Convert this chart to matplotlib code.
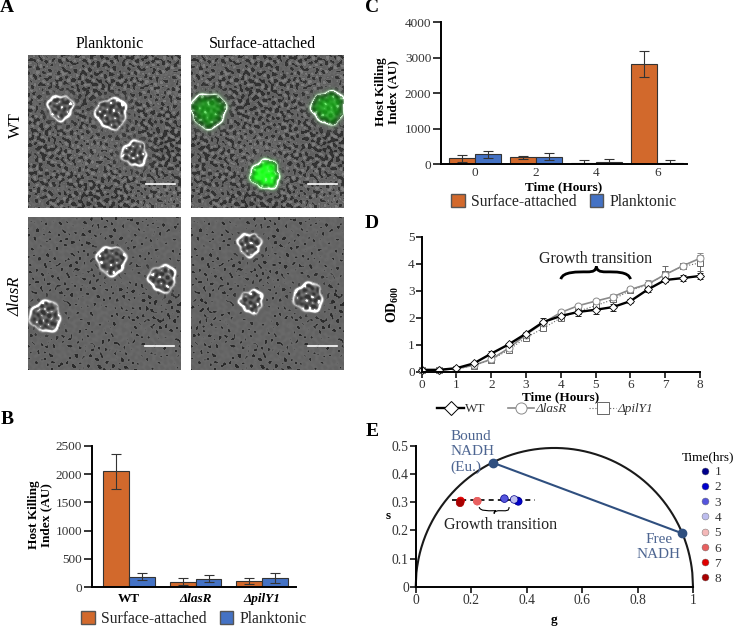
import numpy as np
import matplotlib
matplotlib.use('Agg')
import matplotlib.pyplot as plt
from matplotlib.lines import Line2D
from matplotlib.patches import Patch, PathPatch
from matplotlib.path import Path

plt.rcParams['font.family'] = ['Liberation Serif', 'DejaVu Serif']
plt.rcParams['mathtext.fontset'] = 'custom'
plt.rcParams['mathtext.rm'] = 'Liberation Serif'
plt.rcParams['mathtext.bf'] = 'Liberation Serif:bold'
plt.rcParams['axes.linewidth'] = 1.4

W, H = 733, 626
ORANGE = '#D2692C'
BLUE = '#4472C4'
NAVY = '#2F4F7F'
NAVY_TEXT = '#4D6591'

# Panel A: cells (x, y, radius) in each micrograph, green level per cell
cells_wt_plank = [(32, 52, 12), (83, 58, 15), (106, 98, 12)]
cells_wt_surf = [(17, 55, 17), (137, 52, 16), (74, 119, 14)]
cells_las_plank = [(83, 43, 14), (134, 61, 13), (17, 99, 15)]
cells_las_surf = [(58, 27, 11), (60, 84, 11), (117, 80, 14)]
green_none = [0, 0, 0]
green_wt_surf = [0.45, 0.5, 0.95]

# Panel B
b_names = ['WT', 'ΔlasR', 'ΔpilY1']
b_surface = [2050, 95, 110]
b_surface_err = [310, 65, 50]
b_plank = [185, 145, 160]
b_plank_err = [60, 60, 85]

# Panel C
c_times = ['0', '2', '4', '6']
c_surface = [155, 185, 30, 2810]
c_surface_err = [110, 50, 90, 370]
c_plank = [270, 210, 65, 30]
c_plank_err = [95, 95, 80, 90]

# Panel D
d_hours = [0, 0.5, 1, 1.5, 2, 2.5, 3, 3.5, 4, 4.5, 5, 5.5, 6, 6.5, 7, 7.5, 8]
d_wt = [.08, .08, .14, .32, .68, 1.02, 1.42, 1.85, 2.07, 2.22, 2.30, 2.40, 2.62, 3.05, 3.40, 3.47, 3.55]
d_wt_err = [.02, .02, .03, .04, .08, .05, .07, .13, .08, .15, .15, .13, .06, .08, .08, .1, .1]
d_las = [.07, .08, .12, .25, .47, .88, 1.38, 1.82, 2.20, 2.45, 2.62, 2.78, 3.05, 3.25, 3.6, 3.92, 4.2]
d_las_err = [.02, .02, .02, .03, .05, .05, .05, .08, .06, .06, .08, .1, .08, .15, .1, .08, .18]
d_pil = [.07, .08, .11, .24, .45, .82, 1.27, 1.62, 2.0, 2.25, 2.45, 2.68, 3.02, 3.22, 3.62, 3.9, 4.03]
d_pil_err = [.02, .02, .02, .03, .04, .06, .06, .06, .06, .08, .1, .1, .08, .1, .3, .06, .3]

# Panel E
e_hours = ['1', '2', '3', '4', '5', '6', '7', '8']
e_g = [0.368, 0.370, 0.320, 0.355, 0.222, 0.222, 0.162, 0.160]
e_s = [0.305, 0.303, 0.313, 0.310, 0.304, 0.304, 0.305, 0.298]
e_colors = ['#00008B', '#0000CD', '#5555DD', '#BDBDEE', '#F4B8B8', '#E86060', '#E00000', '#A80000']
e_bound = (0.28, 0.44)
e_free = (0.96, 0.19)
e_arc_top = 0.493

fig = plt.figure(figsize=(W / 100, H / 100), dpi=100)


def px_axes(left, top, right, bottom):
    return fig.add_axes([left / W, 1 - bottom / H, (right - left) / W, (bottom - top) / H])


def fx(x):
    return x / W


def fy(y):
    return 1 - y / H


def micrograph(cells, greens, dense):
    yy, xx = np.mgrid[0:153, 0:153].astype(float)
    # speckled background made of many crossing waves
    wave = np.zeros_like(xx)
    for i in range(1, 15):
        a = i * 2.39996
        k = 0.62 + 0.05 * i
        wave += np.sin(k * (np.cos(a) * xx + np.sin(a) * yy) + i * i)
    wave = wave / 3.2
    # slow patches where the speckle thins out
    slow = np.sin(0.045 * xx + 1.3) * np.sin(0.05 * yy + 0.4) + 0.5 * np.sin(0.03 * xx - 0.06 * yy)
    level = (0.35 if dense else 1.0) + 0.25 * slow
    img = 0.40 + (0.05 if dense else 0.015) * np.clip(wave, -1, 1)
    img = img - 0.25 * np.clip((wave - level) / 0.3, 0, 1)
    if dense:
        img = img + 0.14 * np.clip((-wave - 0.7) / 0.4, 0, 1)
    g_extra = np.zeros_like(img)
    for n, (cx, cy, r) in enumerate(cells):
        th = np.arctan2(yy - cy, xx - cx)
        d = np.hypot(xx - cx, yy - cy) + 1.2 * np.sin(3 * th + n) + 0.7 * np.sin(7 * th + 2 * n)
        calm = np.exp(-(np.clip(d - r, 0, None) / 7) ** 2)
        img = img * (1 - 0.65 * calm) + 0.38 * 0.65 * calm
        inside = d < r
        img[inside] = 0.33 + 0.12 * np.clip(wave[inside], -1, 1)
        strength = 0.35 + 0.3 * (1 + np.sin(2 * th + 3 * n))
        img += strength * np.exp(-((d - r) / 1.4) ** 2)
        img += 0.9 * np.clip(wave - 1.1, 0, 0.6) * inside
        if greens[n] > 0:
            g_extra += greens[n] * np.exp(-(d / (0.95 * r)) ** 4)
            img[inside] *= 0.45
    rgb = np.dstack([img, img, img])
    rgb[:, :, 1] += g_extra
    return np.clip(rgb, 0, 1)


# Panel A
panels = [
    (28, 55, cells_wt_plank, green_none, True, 117),
    (191, 55, cells_wt_surf, green_wt_surf, True, 116),
    (28, 217, cells_las_plank, green_none, False, 116),
    (191, 217, cells_las_surf, green_none, False, 116),
]
for left, top, cells, greens, dense, bar_x in panels:
    ax = px_axes(left, top, left + 153, top + 153)
    ax.imshow(micrograph(cells, greens, dense), interpolation='bilinear')
    ax.plot([bar_x, bar_x + 29], [128, 128], color='white', lw=1.2)
    ax.set_xlim(-0.5, 152.5)
    ax.set_ylim(152.5, -0.5)
    ax.axis('off')

fig.text(fx(110), fy(44), 'Planktonic', fontsize=11.5, ha='center', va='center')
fig.text(fx(262), fy(44), 'Surface-attached', fontsize=11.5, ha='center', va='center')
fig.text(fx(16), fy(125), 'WT', fontsize=12, rotation=90, ha='center', va='center')
fig.text(fx(16), fy(296), 'ΔlasR', fontsize=12, style='italic', rotation=90, ha='center', va='center')

for letter, x, y in [('A', 7, 8), ('B', 7, 420), ('C', 372, 8), ('D', 372, 224), ('E', 372, 431)]:
    fig.text(fx(x), fy(y), letter, fontsize=14, fontweight='bold', ha='center', va='center')

bar_style = dict(edgecolor='#333333', linewidth=0.8,
                 error_kw=dict(ecolor='#333333', elinewidth=0.8, capsize=3.5, capthick=0.8))
legend_handles = [Patch(facecolor=ORANGE, edgecolor='#555555', label='Surface-attached'),
                  Patch(facecolor=BLUE, edgecolor='#555555', label='Planktonic')]

# Panel B
ax = px_axes(92, 446, 296, 587)
pos = np.arange(len(b_names))
ax.bar(pos - 0.195, b_surface, 0.39, yerr=b_surface_err, color=ORANGE, **bar_style)
ax.bar(pos + 0.195, b_plank, 0.39, yerr=b_plank_err, color=BLUE, **bar_style)
ax.set_xlim(-0.556, 2.51)
ax.set_ylim(0, 2500)
ax.set_yticks([0, 500, 1000, 1500, 2000, 2500])
ax.set_xticks(pos)
ax.set_xticklabels(b_names, fontsize=9.5, fontweight='bold')
ax.get_xticklabels()[1].set_style('italic')
ax.get_xticklabels()[2].set_style('italic')
ax.tick_params(axis='x', length=0, pad=4)
ax.tick_params(axis='y', labelsize=9.5, length=6, width=1.1, pad=1, labelcolor='#333333')
ax.spines[['top', 'right']].set_visible(False)
fig.text(fx(40), fy(515), 'Host Killing\nIndex (AU)', fontsize=9.5, fontweight='bold', rotation=90,
         ha='center', va='center', linespacing=1.1)
fig.legend(handles=legend_handles, loc='center', bbox_to_anchor=(fx(194), fy(619)), ncol=2, frameon=False,
           fontsize=11.3, handlelength=0.85, handleheight=0.85, handletextpad=0.4, columnspacing=0.85,
           borderpad=0, labelcolor='#222222')

# Panel C
ax = px_axes(441, 22, 687, 164)
pos = np.arange(len(c_times))
ax.bar(pos - 0.2125, c_surface, 0.425, yerr=c_surface_err, color=ORANGE, **bar_style)
ax.bar(pos + 0.2125, c_plank, 0.425, yerr=c_plank_err, color=BLUE, **bar_style)
ax.set_xlim(-0.56, 3.49)
ax.set_ylim(0, 4000)
ax.set_yticks([0, 1000, 2000, 3000, 4000])
ax.set_xticks(pos)
ax.set_xticklabels(c_times, fontsize=9.5)
ax.tick_params(axis='x', length=0, pad=2, labelcolor='#333333')
ax.tick_params(axis='y', labelsize=9.5, length=6, width=1.1, pad=1, labelcolor='#333333')
ax.spines[['top', 'right']].set_visible(False)
ax.set_xlabel('Time (Hours)', fontsize=9.5, fontweight='bold', labelpad=2)
fig.text(fx(387), fy(92), 'Host Killing\nIndex (AU)', fontsize=9.5, fontweight='bold', rotation=90,
         ha='center', va='center', linespacing=1.1)
fig.legend(handles=legend_handles, loc='center', bbox_to_anchor=(fx(564), fy(202)), ncol=2, frameon=False,
           fontsize=11.3, handlelength=0.85, handleheight=0.85, handletextpad=0.4, columnspacing=0.85,
           borderpad=0, labelcolor='#222222')

# Panel D
ax = px_axes(421.7, 236.7, 700, 372)
ax.errorbar(d_hours, d_pil, yerr=d_pil_err, color='#666666', lw=0.8, ls=':', marker='s', ms=5, mfc='white',
            mew=0.7, capsize=2.5, elinewidth=0.7, clip_on=False, label='ΔpilY1')
ax.errorbar(d_hours, d_las, yerr=d_las_err, color='#8A8A8A', lw=1.2, marker='o', ms=5, mfc='white',
            mew=0.7, capsize=2.5, elinewidth=0.7, clip_on=False, label='ΔlasR')
ax.errorbar(d_hours, d_wt, yerr=d_wt_err, color='black', lw=1.7, marker='D', ms=4.3, mfc='white',
            mew=0.6, capsize=2.5, elinewidth=0.7, clip_on=False, label='WT')
ax.set_xlim(0, 8)
ax.set_ylim(0, 5)
ax.set_xticks(range(9))
ax.set_yticks(range(6))
ax.tick_params(labelsize=9.5, length=4, width=1.1, pad=1, labelcolor='#333333')
ax.spines[['top', 'right']].set_visible(False)
ax.set_xlabel('Time (Hours)', fontsize=9.5, fontweight='bold', labelpad=0)
ax.set_ylabel(r'$\mathbf{OD_{600}}$', fontsize=10, labelpad=5)
ax.text(5, 4.18, 'Growth transition', fontsize=11.5, ha='center', va='center', color='#222222')
brace = Path([(4, 3.43), (4.05, 3.72), (4.5, 3.7), (4.75, 3.7), (4.95, 3.7), (5, 3.75), (5.02, 3.9),
              (5.04, 3.75), (5.1, 3.7), (5.3, 3.7), (5.55, 3.7), (5.95, 3.72), (6, 3.43)],
             [Path.MOVETO] + [Path.CURVE4] * 12)
ax.add_patch(PathPatch(brace, fc='none', ec='black', lw=2))
d_handles = [
    Line2D([], [], color='black', lw=1.7, marker='D', ms=7.5, mfc='white', mew=0.7, label='WT'),
    Line2D([], [], color='#8A8A8A', lw=1.2, marker='o', ms=8, mfc='white', mew=0.7, label='ΔlasR'),
    Line2D([], [], color='#666666', lw=0.8, ls=':', marker='s', ms=8, mfc='white', mew=0.7, label='ΔpilY1'),
]
leg = fig.legend(handles=d_handles, loc='center', bbox_to_anchor=(fx(545), fy(409)), ncol=3, frameon=False,
                 fontsize=9.5, handlelength=2, handletextpad=0.1, columnspacing=1.7, borderpad=0,
                 labelcolor='#333333')
for t in leg.get_texts()[1:]:
    t.set_style('italic')

# Panel E
ax = px_axes(415.7, 446, 693, 586.7)
g = np.linspace(0, 1, 400)
ax.plot(g, 2 * e_arc_top * np.sqrt(np.clip(g * (1 - g), 0, None)), color='#1A1A1A', lw=1.5, clip_on=False)
ax.plot([e_bound[0], e_free[0]], [e_bound[1], e_free[1]], color=NAVY, lw=1.5, marker='o', ms=6, zorder=3)
ax.plot([0.13, 0.43], [0.308, 0.308], color='black', lw=1.2, ls=(0, (3, 2.5)), zorder=2)
ax.scatter(e_g, e_s, c=e_colors, s=30, edgecolors=['#00008B'] * 4 + ['#E86060', '#E86060', '#E00000', '#A80000'],
           linewidths=0.5, zorder=4)
ax.set_xlim(0, 1)
ax.set_ylim(0, 0.5)
ax.set_xticks([0, 0.2, 0.4, 0.6, 0.8, 1])
ax.set_xticklabels(['0', '0.2', '0.4', '0.6', '0.8', '1'])
ax.set_yticks([0, 0.1, 0.2, 0.3, 0.4, 0.5])
ax.set_yticklabels(['0', '0.1', '0.2', '0.3', '0.4', '0.5'])
ax.tick_params(labelsize=9.8, length=4, width=1.1, pad=1, labelcolor='#333333')
ax.spines[['top', 'right']].set_visible(False)
ax.set_xlabel('g', fontsize=9.5, fontweight='bold', labelpad=5)
fig.text(fx(388), fy(516), 's', fontsize=9.5, fontweight='bold', ha='center', va='center')
ax.text(0.126, 0.479, 'Bound\nNADH\n(Eu.)', fontsize=11, color=NAVY_TEXT, ha='left', va='center', linespacing=1.2,
        clip_on=False)
ax.text(0.877, 0.14, 'Free\nNADH', fontsize=11, color=NAVY_TEXT, ha='center', va='center', linespacing=1.2)
ax.text(0.306, 0.221, 'Growth transition', fontsize=11.5, ha='center', va='center', color='#222222')
brace = Path([(0.229, 0.283), (0.232, 0.268), (0.26, 0.27), (0.28, 0.27), (0.3, 0.27), (0.28, 0.27), (0.283, 0.26),
              (0.286, 0.27), (0.29, 0.27), (0.31, 0.27), (0.33, 0.27), (0.335, 0.268), (0.337, 0.283)],
             [Path.MOVETO] + [Path.CURVE4] * 12)
ax.add_patch(PathPatch(brace, fc='none', ec='black', lw=0.8))
e_handles = [Line2D([], [], ls='', marker='o', ms=5, mfc=c, mec='#666666', mew=0.3, label=h)
             for c, h in zip(e_colors, e_hours)]
fig.legend(handles=e_handles, title='Time(hrs)', title_fontsize=9.5, loc='center',
           bbox_to_anchor=(fx(708), fy(518)), frameon=False, fontsize=9.5, handletextpad=-0.1, labelspacing=0.23,
           borderpad=0, handlelength=1.6, labelcolor='#333333')

fig.savefig('out.png', dpi=100)
